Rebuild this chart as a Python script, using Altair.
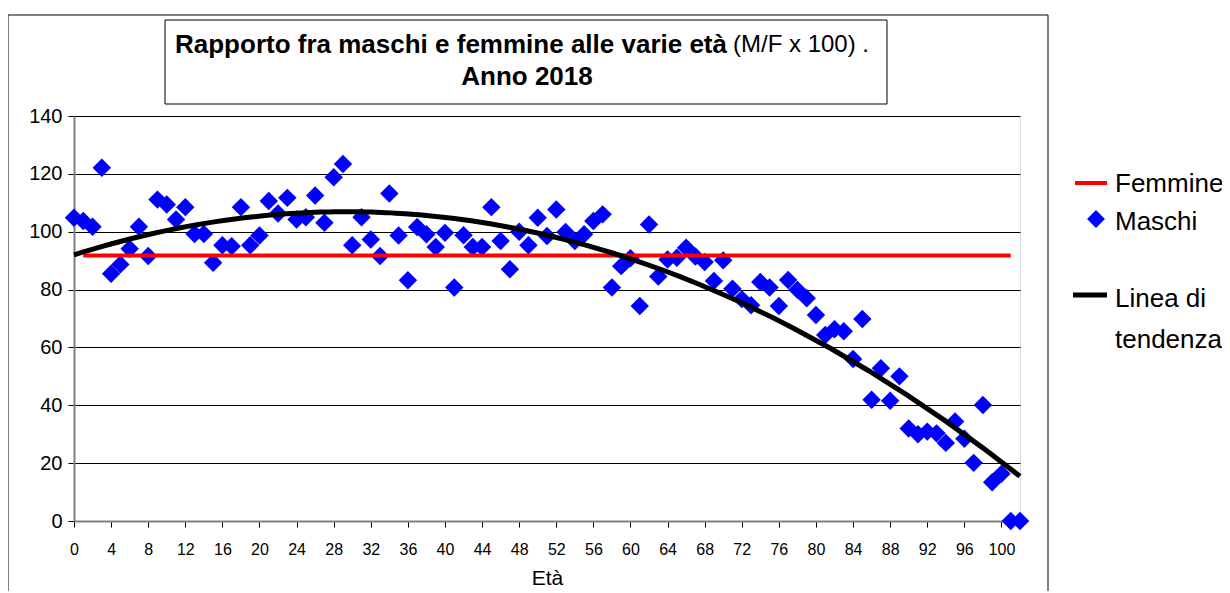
import altair as alt
import pandas as pd

# ---------------- data ----------------
ages = list(range(103))
maschi = [104.8, 103.7, 101.7, 122.1, 85.5, 88.7, 94.1, 101.7, 91.6, 111.1,
          109.4, 104.2, 108.5, 99.2, 99.2, 89.3, 95.3, 95.0, 108.5, 95.3,
          98.7, 110.6, 106.3, 111.7, 104.2, 105.0, 112.5, 103.1, 118.8, 123.4,
          95.3, 105.0, 97.3, 91.6, 113.2, 98.7, 83.2, 101.6, 99.1, 94.7,
          99.6, 80.7, 98.8, 94.7, 94.7, 108.5, 96.8, 87.0, 100.0, 95.3,
          104.8, 98.5, 107.7, 99.9, 96.8, 99.1, 103.7, 106.0, 80.7, 88.1,
          90.8, 74.3, 102.5, 84.5, 90.4, 91.0, 94.5, 91.4, 89.5, 83.0,
          90.1, 80.3, 76.7, 74.6, 82.6, 80.7, 74.3, 83.3, 79.9, 77.0,
          71.2, 64.3, 66.3, 65.6, 56.0, 69.8, 41.9, 52.8, 41.6, 50.0,
          32.0, 30.0, 30.9, 30.3, 27.0, 34.4, 28.4, 20.1, 40.1, 13.4,
          16.3, 0.0, 0.0]
femmine_ages = [1, 101]
femmine_values = [91.8, 91.8]

x_ticks = list(range(0, 101, 4))
y_ticks = list(range(0, 141, 20))

title_bold = "Rapporto fra maschi e femmine alle varie età"
title_normal = "(M/F x 100) ."
title_line2 = "Anno 2018"
x_title = "Età"
legend_labels = ["Femmine", "Maschi", "Linea di", "tendenza"]

FONT = "Liberation Sans"

df_m = pd.DataFrame({"age": ages, "value": maschi})
df_f = pd.DataFrame({"age": femmine_ages, "value": femmine_values})
one = pd.DataFrame({"k": [0]})

xs = alt.Scale(domain=[0, 102], nice=False, zero=False)
ys = alt.Scale(domain=[0, 140], nice=False)

x_axis = alt.Axis(values=x_ticks, grid=False, title=x_title, labelFontSize=16,
                  titleFontSize=21, titleFontWeight="normal", labelPadding=14,
                  tickSize=6, tickColor="black", domainColor="#808080",
                  domainWidth=2, labelColor="black", titleColor="black",
                  titlePadding=10, labelFont=FONT, titleFont=FONT, labelFlush=False,
                  labelOverlap=False)
y_axis = alt.Axis(values=y_ticks, grid=True, gridColor="black", gridWidth=1,
                  title=None, labelFontSize=20, labelPadding=6, tickSize=6,
                  tickColor="black", domainColor="#808080", domainWidth=2,
                  labelColor="black", labelFont=FONT)

points = alt.Chart(df_m).mark_point(shape="diamond", filled=True, size=340,
                                    color="#0000FF", opacity=1).encode(
    x=alt.X("age:Q", scale=xs, axis=x_axis),
    y=alt.Y("value:Q", scale=ys, axis=y_axis),
)

fem = alt.Chart(df_f).mark_line(color="#FF0000", strokeWidth=4).encode(
    x=alt.X("age:Q", scale=xs, axis=x_axis), y=alt.Y("value:Q", scale=ys, axis=y_axis))

trend = alt.Chart(df_m).transform_regression(
    "age", "value", method="poly", order=2, extent=[0, 102]
).mark_line(color="black", strokeWidth=5).encode(
    x=alt.X("age:Q", scale=xs, axis=x_axis), y=alt.Y("value:Q", scale=ys, axis=y_axis))

# ---- decorations (frame, title box, legend) in pixel space ----
OX, OY = 74, 116  # plot origin on the page

def px(v):
    return v - OX

def py(v):
    return v - OY

frame = alt.Chart(one).mark_rect(fillOpacity=0, stroke="black", strokeWidth=1).encode(
    x=alt.value(px(8)), x2=alt.value(px(1048)), y=alt.value(py(15)), y2=alt.value(py(600)))

tbox = alt.Chart(one).mark_rect(fill="white", stroke="black", strokeWidth=1).encode(
    x=alt.value(px(165)), x2=alt.value(px(887)), y=alt.value(py(20)), y2=alt.value(py(104)))

t1 = alt.Chart(one).mark_text(text=title_bold, font=FONT, fontSize=26, fontWeight="bold",
                              align="right", baseline="middle", color="black").encode(
    x=alt.value(px(727)), y=alt.value(py(45)))
t2 = alt.Chart(one).mark_text(text=title_normal, font=FONT, fontSize=24, fontWeight="normal",
                              align="left", baseline="middle", color="black").encode(
    x=alt.value(px(733)), y=alt.value(py(45)))
t3 = alt.Chart(one).mark_text(text=title_line2, font=FONT, fontSize=26, fontWeight="bold",
                              align="center", baseline="middle", color="black").encode(
    x=alt.value(px(527)), y=alt.value(py(77)))

leg_red = alt.Chart(one).mark_rule(color="#FF0000", strokeWidth=4).encode(
    x=alt.value(px(1075)), x2=alt.value(px(1107)), y=alt.value(py(183)))
leg_dia = alt.Chart(one).mark_point(shape="diamond", filled=True, size=320,
                                    color="#0000FF", opacity=1).encode(
    x=alt.value(px(1096)), y=alt.value(py(219)))
leg_blk = alt.Chart(one).mark_rule(color="black", strokeWidth=5).encode(
    x=alt.value(px(1073)), x2=alt.value(px(1107)), y=alt.value(py(295)))

leg_y = [184, 222, 299, 340]
leg_text = [
    alt.Chart(one).mark_text(text=lab, font=FONT, fontSize=26, align="left",
                             baseline="middle", color="black").encode(
        x=alt.value(px(1115)), y=alt.value(py(yy)))
    for lab, yy in zip(legend_labels, leg_y)
]

chart = alt.layer(frame, tbox, t1, t2, t3, points, fem, trend,
                  leg_red, leg_dia, leg_blk, *leg_text).properties(
    width=946, height=405, autosize="none",
    padding={"left": 66, "top": 108, "right": 202, "bottom": 70},
).configure_view(fill="#FFFFCC", stroke="#808080", strokeWidth=2
).configure_axisX(labelOverlap=False
).configure(background="white")

chart.save("out.html", embed_options={"renderer": "svg", "actions": False})
